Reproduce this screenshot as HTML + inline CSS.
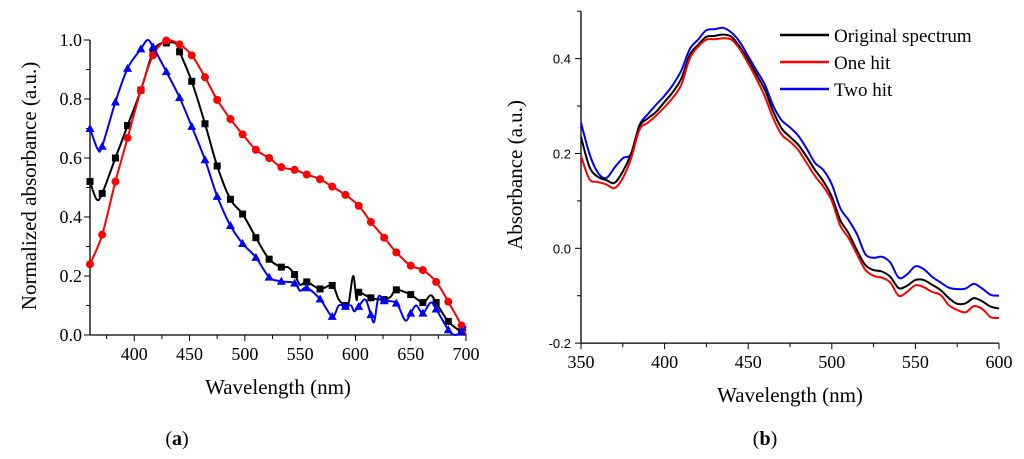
<!DOCTYPE html>
<html><head><meta charset="utf-8"><style>
body{margin:0;background:#fff;}
svg{display:block;}
.serif{font-family:"Liberation Serif",serif;}
.sans{font-family:"Liberation Sans",sans-serif;}
</style></head><body>
<svg id="fig" width="1024" height="459" viewBox="0 0 1024 459" xmlns="http://www.w3.org/2000/svg">
<g id="A"></g>
<g id="B"></g>
<text class="serif" x="177" y="445" font-size="20" text-anchor="middle">(<tspan font-weight="bold">a</tspan>)</text>
<text class="serif" x="765" y="445" font-size="20" text-anchor="middle">(<tspan font-weight="bold">b</tspan>)</text>
</svg>
<script>
// ---- Chart A data ----
const aXTicks=[400,450,500,550,600,650,700];
const aYTicks=[0.0,0.2,0.4,0.6,0.8,1.0];
const aMarkX=[360,371,383,394,406,417,429,441,452,464,475,487,498,510,522,533,545,556,568,579,591,603,614,626,637,650,661,673,684,696];
const blackMarkY=[0.52,0.48,0.60,0.71,0.83,0.96,0.99,0.96,0.86,0.716,0.573,0.46,0.41,0.33,0.257,0.23,0.205,0.18,0.156,0.168,0.1,0.145,0.126,0.12,0.153,0.137,0.11,0.11,0.046,0.012];
const redMarkY=[0.24,0.34,0.52,0.668,0.83,0.948,0.998,0.985,0.948,0.874,0.797,0.732,0.68,0.628,0.6,0.569,0.56,0.544,0.528,0.503,0.475,0.438,0.383,0.33,0.28,0.235,0.22,0.18,0.113,0.032];
const blueMarkY=[0.70,0.64,0.79,0.904,0.97,0.977,0.893,0.805,0.707,0.594,0.47,0.371,0.31,0.263,0.196,0.182,0.176,0.16,0.122,0.063,0.097,0.097,0.069,0.116,0.108,0.074,0.074,0.088,0.018,0.012];
const blackLineX=[360,366,371,383,394,406,417,425,429,437,441,452,464,475,487,498,510,522,533,539,545,550,556,568,579,585,591,594,598,601,603,614,626,632,637,650,661,668,673,684,696,700];
const blackLineY=[0.52,0.46,0.48,0.60,0.71,0.83,0.96,0.99,0.99,0.99,0.96,0.86,0.716,0.573,0.46,0.41,0.33,0.257,0.23,0.23,0.205,0.17,0.18,0.156,0.168,0.12,0.1,0.11,0.2,0.12,0.145,0.126,0.12,0.13,0.153,0.137,0.11,0.135,0.11,0.046,0.012,0.02];
const redLineX=[360,371,383,394,406,417,429,441,452,464,475,487,498,510,522,533,545,556,568,579,591,603,614,626,637,650,661,673,684,696,700];
const redLineY=[0.24,0.34,0.52,0.668,0.83,0.948,0.998,0.985,0.948,0.874,0.797,0.732,0.68,0.628,0.6,0.569,0.56,0.544,0.528,0.503,0.475,0.438,0.383,0.33,0.28,0.235,0.22,0.18,0.113,0.032,0.0];
const blueLineX=[360,367,371,383,394,406,412,417,429,441,452,464,475,487,498,510,522,533,545,550,556,568,579,585,591,596,599,603,609,614,617,621,626,637,645,650,655,661,668,673,684,690,696,700];
const blueLineY=[0.70,0.63,0.64,0.79,0.904,0.97,1.0,0.977,0.893,0.805,0.707,0.594,0.47,0.371,0.31,0.263,0.196,0.182,0.176,0.15,0.16,0.122,0.063,0.1,0.097,0.1,0.08,0.097,0.12,0.069,0.045,0.13,0.116,0.108,0.05,0.074,0.1,0.074,0.11,0.088,0.018,0.0,0.012,0.03];
// ---- Chart B data ----
const bXTicks=[350,400,450,500,550,600];
const bYTicks=[-0.2,0.0,0.2,0.4];
const bX=[350,355,360,365,370,375,380,385,390,395,400,405,410,415,420,425,430,435,440,445,450,455,460,465,470,475,480,485,490,495,500,505,510,515,520,525,530,535,540,545,550,555,560,565,570,575,580,585,590,595,600];
const origY=[0.235,0.172,0.151,0.144,0.138,0.162,0.2,0.257,0.274,0.288,0.309,0.33,0.358,0.408,0.429,0.446,0.448,0.451,0.446,0.425,0.397,0.366,0.334,0.288,0.253,0.235,0.218,0.193,0.165,0.141,0.109,0.06,0.032,-0.004,-0.035,-0.046,-0.049,-0.06,-0.084,-0.079,-0.067,-0.067,-0.077,-0.088,-0.105,-0.117,-0.116,-0.105,-0.112,-0.123,-0.127];
const oneY=[0.195,0.146,0.14,0.135,0.127,0.148,0.19,0.25,0.265,0.28,0.298,0.318,0.345,0.4,0.425,0.44,0.441,0.443,0.44,0.42,0.39,0.357,0.32,0.274,0.24,0.225,0.207,0.18,0.152,0.13,0.1,0.048,0.022,-0.012,-0.045,-0.058,-0.062,-0.072,-0.1,-0.092,-0.078,-0.082,-0.092,-0.098,-0.12,-0.13,-0.135,-0.122,-0.128,-0.145,-0.147];
const twoY=[0.265,0.2,0.16,0.148,0.17,0.19,0.2,0.26,0.283,0.303,0.322,0.345,0.375,0.42,0.44,0.46,0.462,0.465,0.455,0.435,0.405,0.375,0.345,0.3,0.27,0.255,0.237,0.21,0.18,0.165,0.135,0.085,0.06,0.03,-0.012,-0.02,-0.018,-0.03,-0.062,-0.055,-0.038,-0.044,-0.06,-0.072,-0.083,-0.086,-0.085,-0.075,-0.085,-0.098,-0.1];
const legendNames=["Original spectrum","One hit","Two hit"];

const NS="http://www.w3.org/2000/svg";
function mk(parent,tag,attrs){const e=document.createElementNS(NS,tag);for(const k in attrs)e.setAttribute(k,attrs[k]);parent.appendChild(e);return e;}
function smooth(pts){let d="M"+pts[0][0]+","+pts[0][1];for(let i=0;i<pts.length-1;i++){const p0=pts[Math.max(i-1,0)],p1=pts[i],p2=pts[i+1],p3=pts[Math.min(i+2,pts.length-1)];const c1=[p1[0]+(p2[0]-p0[0])/6,p1[1]+(p2[1]-p0[1])/6],c2=[p2[0]-(p3[0]-p1[0])/6,p2[1]-(p3[1]-p1[1])/6];d+=" C"+c1[0].toFixed(1)+","+c1[1].toFixed(1)+" "+c2[0].toFixed(1)+","+c2[1].toFixed(1)+" "+p2[0].toFixed(1)+","+p2[1].toFixed(1);}return d;}

// Chart A
(function(){
const g=document.getElementById('A');
const L=90,R=466,T=40,Bt=335;
const x=v=>L+(v-360)*(R-L)/340, y=v=>Bt-v*(Bt-T);
let e=mk(g,'line',{x1:L,y1:T,x2:L,y2:Bt,stroke:'#000','stroke-width':1.3});

e=mk(g,'line',{x1:L,y1:Bt,x2:R,y2:Bt,stroke:'#000','stroke-width':1.3});

for(let v=0;v<=1.0001;v+=0.1){const big=Math.round(v*10)%2==0;mk(g,'line',{x1:L-(big?6:4),y1:y(v),x2:L,y2:y(v),stroke:'#000','stroke-width':1});}
aYTicks.forEach(v=>{const t=mk(g,'text',{x:L-8,y:y(v)+6,'font-size':18,'text-anchor':'end',class:'serif'});t.textContent=v.toFixed(1);
});
for(let v=375;v<=700;v+=25){const big=v%50==0;mk(g,'line',{x1:x(v),y1:Bt,x2:x(v),y2:Bt+(big?6:4),stroke:'#000','stroke-width':1});}
aXTicks.forEach(v=>{const t=mk(g,'text',{x:x(v),y:Bt+25,'font-size':18,'text-anchor':'middle',class:'serif'});t.textContent=v;
});
let t=mk(g,'text',{x:278,y:394,'font-size':21,'text-anchor':'middle',class:'serif'});t.textContent='Wavelength (nm)';

t=mk(g,'text',{x:0,y:0,'font-size':21,'text-anchor':'middle',class:'serif',transform:'translate(36,186) rotate(-90)'});t.textContent='Normalized absorbance (a.u.)';

const series=[[blackLineX,blackLineY,blackMarkY,'#000','square','black-series'],[redLineX,redLineY,redMarkY,'#f00','circle','red-series'],[blueLineX,blueLineY,blueMarkY,'#00f','tri','blue-series']];
series.forEach(s=>{
 const p=mk(g,'path',{d:smooth(s[0].map((v,i)=>[x(v),y(s[1][i])])),fill:'none',stroke:s[3],'stroke-width':2});
 
 aMarkX.forEach((v,i)=>{const cx=x(v),cy=y(s[2][i]);let m;
  if(s[4]=='square')m=mk(g,'rect',{x:cx-3.5,y:cy-3.5,width:7,height:7,fill:s[3]});
  else if(s[4]=='circle')m=mk(g,'circle',{cx:cx,cy:cy,r:4,fill:s[3]});
  else m=mk(g,'polygon',{points:`${cx},${cy-4.5} ${cx-4.5},${cy+3.5} ${cx+4.5},${cy+3.5}`,fill:s[3]});
  });
});
})();

// Chart B
(function(){
const g=document.getElementById('B');
const L=581,R=999,y0=248.3,k=1422.5/3;
const x=v=>L+(v-350)*(R-L)/250, y=v=>y0-v*k;
const T=y(0.5),Bt=y(-0.2);
let e=mk(g,'line',{x1:L,y1:T,x2:L,y2:Bt,stroke:'#000','stroke-width':1.3});

e=mk(g,'line',{x1:L,y1:Bt,x2:R,y2:Bt,stroke:'#000','stroke-width':1.3});

for(let i=-2;i<=5;i++){const v=i/10;const big=i%2==0;mk(g,'line',{x1:L-(big?6:4),y1:y(v),x2:L,y2:y(v),stroke:'#000','stroke-width':1});}
bYTicks.forEach(v=>{const t=mk(g,'text',{x:L-10,y:y(v)+5,'font-size':13,'text-anchor':'end',class:'sans'});t.textContent=v.toFixed(1);
});
for(let v=350;v<=600;v+=25){const big=v%50==0;mk(g,'line',{x1:x(v),y1:Bt,x2:x(v),y2:Bt+(big?6:4),stroke:'#000','stroke-width':1});}
bXTicks.forEach(v=>{const t=mk(g,'text',{x:x(v),y:Bt+25,'font-size':18,'text-anchor':'middle',class:'serif'});t.textContent=v;
});
let t=mk(g,'text',{x:790,y:402,'font-size':21,'text-anchor':'middle',class:'serif'});t.textContent='Wavelength (nm)';

t=mk(g,'text',{x:0,y:0,'font-size':21,'text-anchor':'middle',class:'serif',transform:'translate(522,175) rotate(-90)'});t.textContent='Absorbance (a.u.)';

const series=[[origY,'#000','original-spectrum'],[oneY,'#f00','one-hit'],[twoY,'#00f','two-hit']];
[2,0,1].forEach(si=>{const s=series[si];
 const p=mk(g,'path',{d:smooth(bX.map((v,i)=>[x(v),y(s[0][i])])),fill:'none',stroke:s[1],'stroke-width':2});
 });
series.forEach((s,i)=>{const ly=35+i*27;
 const l=mk(g,'line',{x1:780,y1:ly,x2:829,y2:ly,stroke:s[1],'stroke-width':2.5});
 
 const tt=mk(g,'text',{x:834,y:ly+7,'font-size':19,class:'serif'});tt.textContent=legendNames[i];
 });
})();
</script>
</body></html>
